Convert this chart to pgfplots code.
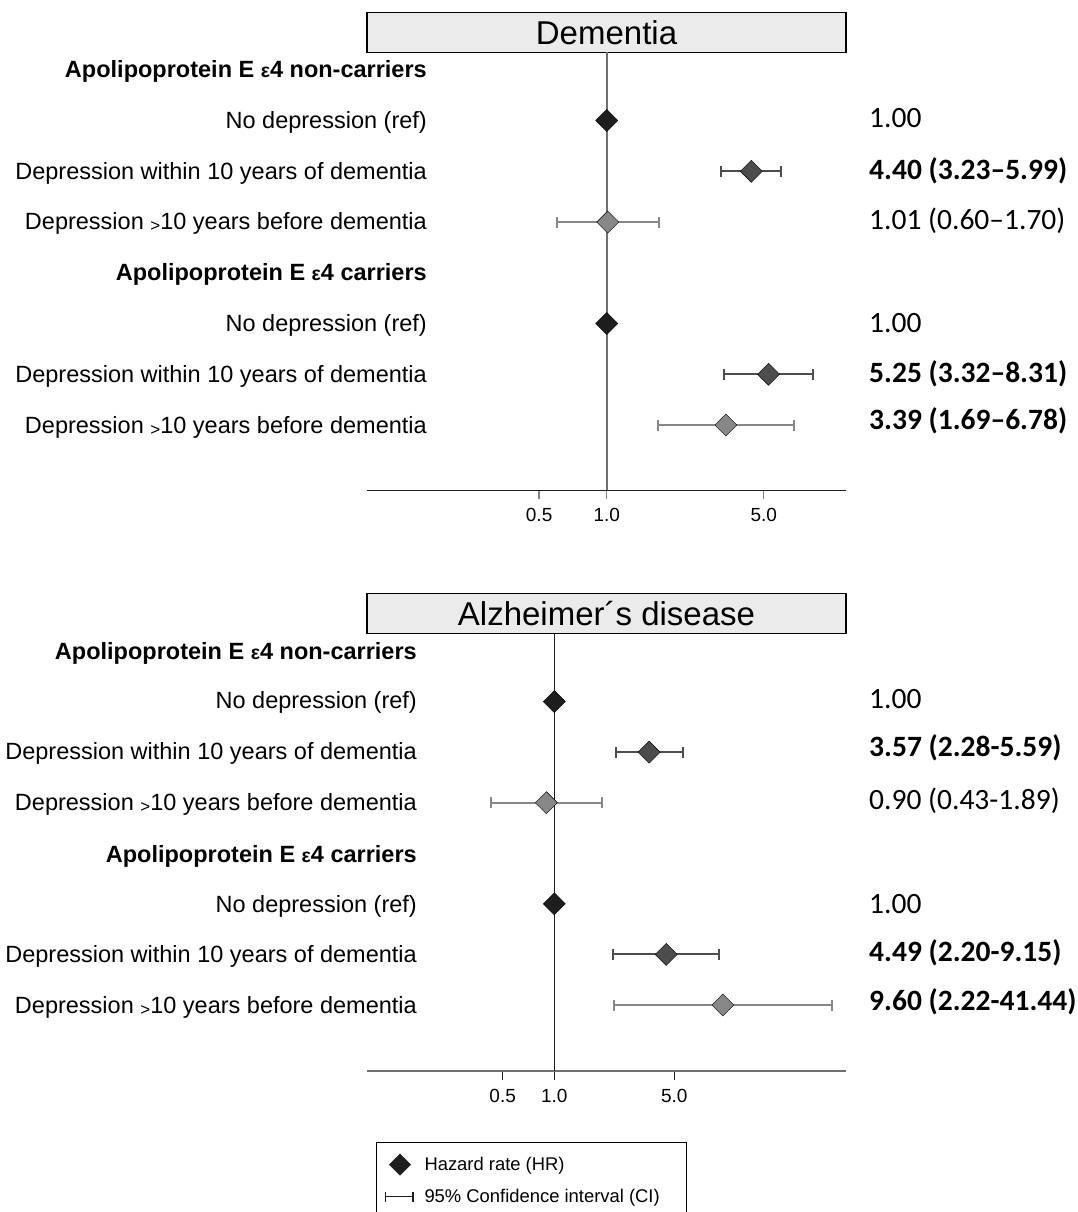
\documentclass[border=0pt]{standalone}
\usepackage{pgfplots}
\pgfplotsset{compat=1.18}
\usepackage{fontspec}
\setmainfont{Liberation Sans}
\newfontfamily\calib{Carlito}
\definecolor{cref}{HTML}{1E1E1E}
\definecolor{cwin}{HTML}{4D4D4D}
\definecolor{cold}{HTML}{878787}
\definecolor{tbox}{HTML}{EBEBEB}
\definecolor{vgray}{HTML}{707070}
\newcommand{\lab}{\fontsize{23.5}{27}\selectfont}
\newcommand{\val}{\calib\fontsize{29.5}{33}\selectfont}
\newcommand{\eps}{{\fontsize{19.5}{19.5}\selectfont ε}}
\newcommand{\gt}{\raisebox{-2pt}{\fontsize{17}{17}\selectfont >}}
\pgfplotsset{
  forestplot/.style={scale only axis, width=479pt,
    axis y line=none, axis x line*=bottom,
    xtick={0.5,1,5}, xticklabels={\textrm{0.5},\textrm{1.0},\textrm{5.0}},
    xminorticks=false, tick align=outside, major tick length=8.5pt,
    xticklabel style={font=\fontsize{19}{19}\selectfont, anchor=base, yshift=-22.9pt},
    clip=false},
  hr/.style={only marks, mark=square*, mark size=7.8pt,
    mark options={rotate=45, draw=none, fill=#1}},
  ci/.style={color=#1, line width=2pt, mark=|, mark size=5.5pt,
    mark options={solid, line width=2pt}},
}
\begin{document}
\begin{tikzpicture}[x=1pt,y=1pt]
\useasboundingbox (0,0) rectangle (1078,-1212);
% ---------------- Top panel ----------------
\draw[fill=tbox, line width=1.2pt] (367,-12.3) rectangle (846,-52.3);
\node at (606.5,-32.3) {\fontsize{33}{33}\selectfont Dementia};
\begin{semilogxaxis}[forestplot, at={(367pt,-490.3pt)}, anchor=south west, height=438pt,
  xmin=0.0857, xmax=11.61, ymin=-8.286, ymax=0.345,
  x axis line style={cref, line width=1.3pt},
  xtick style={color=gray, line width=1.3pt}]
\addplot[color=vgray, line width=1.5pt] coordinates {(1,0.345) (1,-8.286)};
\addplot[ci=cwin] coordinates {(3.23,-2) (5.99,-2)};
\addplot[ci=cold] coordinates {(0.60,-3) (1.70,-3)};
\addplot[ci=cwin] coordinates {(3.32,-6) (8.31,-6)};
\addplot[ci=cold] coordinates {(1.69,-7) (6.78,-7)};
\addplot[hr=cref] coordinates {(1,-1) (1,-5)};
\addplot[hr=cwin] coordinates {(4.40,-2) (5.25,-6)};
\addplot[hr=cold] coordinates {(1.01,-3) (3.39,-7)};
\end{semilogxaxis}
\begin{scope}[every node/.style={anchor=base east, inner sep=0pt}]
\node at (427,-77.7) {\lab\bfseries Apolipoprotein E \eps4 non-carriers};
\node at (427,-128.3) {\lab No depression (ref)};
\node at (427,-179.0) {\lab Depression within 10 years of dementia};
\node at (427,-229.8) {\lab Depression \gt10 years before dementia};
\node at (427,-280.9) {\lab\bfseries Apolipoprotein E \eps4 carriers};
\node at (427,-331.6) {\lab No depression (ref)};
\node at (427,-382.4) {\lab Depression within 10 years of dementia};
\node at (427,-433.2) {\lab Depression \gt10 years before dementia};
\end{scope}
\begin{scope}[every node/.style={anchor=base west, inner sep=0pt}]
\node at (869,-127.2) {\val 1.00};
\node at (869,-179.2) {\val\bfseries 4.40 (3.23–5.99)};
\node at (869,-229.2) {\val 1.01 (0.60–1.70)};
\node at (869,-332.2) {\val 1.00};
\node at (869,-382.2) {\val\bfseries 5.25 (3.32–8.31)};
\node at (869,-429.2) {\val\bfseries 3.39 (1.69–6.78)};
\end{scope}
% ---------------- Bottom panel ----------------
\draw[fill=tbox, line width=1.2pt] (367,-593.3) rectangle (846,-633.3);
\node at (606.5,-613.3) {\fontsize{33}{33}\selectfont Alzheimer´s disease};
\begin{semilogxaxis}[forestplot, at={(367pt,-1071pt)}, anchor=south west, height=437.7pt,
  xmin=0.0810, xmax=50.1, ymin=-8.305, ymax=0.350,
  x axis line style={color=vgray, line width=2pt},
  xtick style={color=cref, line width=1.3pt},
  legend style={at={(0.0188,-0.1629)}, anchor=north west, draw=black,
    line width=1pt, font=\fontsize{18.4}{22}\selectfont,
    cells={anchor=west, inner sep=0pt},
    inner xsep=0pt, inner ysep=5.7pt, row sep=0pt, column sep=0pt}]
\addlegendimage{legend image code/.code={
  \path[draw=none, fill=none] (0pt,-16pt) rectangle (46pt,16pt);
  \fill[cref, draw=none] (12.5pt,0pt) -- (23.5pt,11pt) -- (34.5pt,0pt) -- (23.5pt,-11pt) -- cycle;}}
\addlegendimage{legend image code/.code={
  \path[draw=none, fill=none] (0pt,-16pt) rectangle (46pt,16pt);
  \draw[cref, line width=1.5pt] (9pt,0pt) -- (36.7pt,0pt);
  \draw[cref, line width=1.5pt] (9pt,-5pt) -- (9pt,5pt) (36.7pt,-5pt) -- (36.7pt,5pt);}}
\addlegendentry{Hazard rate (HR)}
\addlegendentry{\makebox[260pt][l]{95\% Confidence interval (CI)}}
\addplot[color=cref, line width=1.5pt, forget plot] coordinates {(1,0.350) (1,-8.305)};
\addplot[ci=cwin, forget plot] coordinates {(2.28,-2) (5.59,-2)};
\addplot[ci=cold, forget plot] coordinates {(0.43,-3) (1.89,-3)};
\addplot[ci=cwin, forget plot] coordinates {(2.20,-6) (9.15,-6)};
\addplot[ci=cold, forget plot] coordinates {(2.22,-7) (41.44,-7)};
\addplot[hr=cref, forget plot] coordinates {(1,-1) (1,-5)};
\addplot[hr=cwin, forget plot] coordinates {(3.57,-2) (4.49,-6)};
\addplot[hr=cold, forget plot] coordinates {(0.90,-3) (9.60,-7)};
\end{semilogxaxis}
\begin{scope}[every node/.style={anchor=base east, inner sep=0pt}]
\node at (417,-659.3) {\lab\bfseries Apolipoprotein E \eps4 non-carriers};
\node at (417,-708.3) {\lab No depression (ref)};
\node at (417,-759.3) {\lab Depression within 10 years of dementia};
\node at (417,-810.3) {\lab Depression \gt10 years before dementia};
\node at (417,-862.0) {\lab\bfseries Apolipoprotein E \eps4 carriers};
\node at (417,-912.3) {\lab No depression (ref)};
\node at (417,-962.3) {\lab Depression within 10 years of dementia};
\node at (417,-1013.3) {\lab Depression \gt10 years before dementia};
\end{scope}
\begin{scope}[every node/.style={anchor=base west, inner sep=0pt}]
\node at (869,-708.2) {\val 1.00};
\node at (869,-756.2) {\val\bfseries 3.57 (2.28-5.59)};
\node at (869,-809.2) {\val 0.90 (0.43-1.89)};
\node at (869,-913.2) {\val 1.00};
\node at (869,-961.2) {\val\bfseries 4.49 (2.20-9.15)};
\node at (869,-1010.2) {\val\bfseries 9.60 (2.22-41.44)};
\end{scope}
\end{tikzpicture}
\end{document}
